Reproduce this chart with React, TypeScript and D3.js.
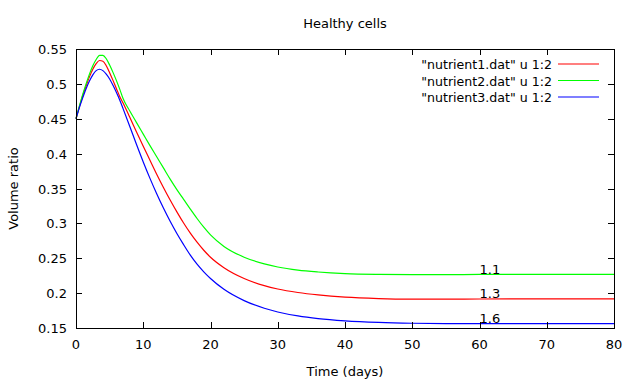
import React, { useRef, useEffect } from 'react';
import * as d3 from 'd3';

// time (days) sampled for each series
const days = [0, 0.5, 1, 1.5, 2, 2.5, 3, 3.5, 4, 4.5, 5, 5.5, 6, 6.5, 7, 8, 9, 10, 11, 12, 13, 14, 15, 16, 17, 18, 19, 20, 22, 25, 28, 30, 33, 36, 40, 45, 50, 55, 60, 70, 80];

const nutrient1 = [0.450, 0.467, 0.483, 0.497, 0.510, 0.521, 0.529, 0.5335, 0.5325, 0.526, 0.516, 0.505, 0.4935, 0.482, 0.4725, 0.452, 0.431, 0.4105, 0.3905, 0.3705, 0.3515, 0.3335, 0.3165, 0.3005, 0.286, 0.273, 0.2615, 0.2515, 0.2365, 0.221, 0.2107, 0.2059, 0.2009, 0.1974, 0.1942, 0.1922, 0.1914, 0.1913, 0.1916, 0.1918, 0.1918];
const nutrient2 = [0.450, 0.468, 0.485, 0.500, 0.514, 0.526, 0.535, 0.541, 0.541, 0.536, 0.527, 0.5165, 0.505, 0.4925, 0.479, 0.461, 0.4445, 0.428, 0.4115, 0.3955, 0.3795, 0.3635, 0.3485, 0.3345, 0.3205, 0.307, 0.2945, 0.2835, 0.267, 0.2515, 0.242, 0.2375, 0.233, 0.2303, 0.228, 0.2268, 0.2264, 0.2265, 0.2268, 0.227, 0.227];
const nutrient3 = [0.450, 0.466, 0.480, 0.493, 0.504, 0.513, 0.519, 0.521, 0.519, 0.514, 0.507, 0.498, 0.488, 0.477, 0.4645, 0.439, 0.413, 0.388, 0.3645, 0.3425, 0.322, 0.303, 0.2855, 0.2695, 0.2545, 0.2415, 0.2305, 0.221, 0.2055, 0.1893, 0.1783, 0.173, 0.1673, 0.1635, 0.1603, 0.158, 0.1568, 0.1563, 0.1562, 0.1563, 0.1564];

const seriesNames = ['"nutrient1.dat" u 1:2', '"nutrient2.dat" u 1:2', '"nutrient3.dat" u 1:2'];
const seriesColors = ['#ff0000', '#00ff00', '#0000ff'];

const xTicks = [0, 10, 20, 30, 40, 50, 60, 70, 80];
const yTicks = [0.15, 0.2, 0.25, 0.3, 0.35, 0.4, 0.45, 0.5, 0.55];

// curve labels placed in the plot
const labelTexts = ['1.1', '1.3', '1.6'];
const labelX = [60, 60, 60];
const labelY = [0.235, 0.2, 0.165];

const App = () => {
    const chart = useRef<SVGSVGElement>(null);

    useEffect(() => {
        const width = 636;
        const height = 382;
        const left = 76, right = 614, top = 49, bottom = 328;
        const font = 'DejaVu Sans, sans-serif';

        const svg = d3.select(chart.current);
        svg.selectAll('*').remove();
        svg.attr('width', width).attr('height', height);

        svg.append('rect').attr('width', width).attr('height', height).attr('fill', '#fff');

        const xScale = d3.scaleLinear().domain([0, 80]).range([left, right]);
        const yScale = d3.scaleLinear().domain([0.15, 0.55]).range([bottom, top]);

        const g = svg.append('g').style('font-family', font).style('font-size', '13px');

        // curves
        const all = [nutrient1, nutrient2, nutrient3];
        const line = d3.line<number>()
            .x((d, i) => xScale(days[i]))
            .y(d => yScale(d))
            .curve(d3.curveMonotoneX);

        all.forEach((vals, k) => {
            g.append('path')
                .attr('d', line(vals))
                .attr('fill', 'none')
                .attr('stroke', seriesColors[k])
                .attr('stroke-width', 1.2);
        });

        // ticks (mirrored on all sides)
        const tk = 6;
        xTicks.forEach(t => {
            const x = Math.round(xScale(t)) + 0.5;
            g.append('line').attr('x1', x).attr('x2', x).attr('y1', bottom).attr('y2', bottom - tk).attr('stroke', '#000');
            g.append('line').attr('x1', x).attr('x2', x).attr('y1', top).attr('y2', top + tk).attr('stroke', '#000');
            g.append('text').attr('x', xScale(t)).attr('y', bottom + 21)
                .attr('text-anchor', 'middle').text(String(t));
        });
        yTicks.forEach(t => {
            const y = Math.round(yScale(t)) + 0.5;
            g.append('line').attr('x1', left).attr('x2', left + tk).attr('y1', y).attr('y2', y).attr('stroke', '#000');
            g.append('line').attr('x1', right).attr('x2', right - tk).attr('y1', y).attr('y2', y).attr('stroke', '#000');
            g.append('text').attr('x', left - 9).attr('y', yScale(t) + 5)
                .attr('text-anchor', 'end').text(String(t));
        });

        // border
        g.append('rect')
            .attr('x', left + 0.5).attr('y', top + 0.5)
            .attr('width', right - left).attr('height', bottom - top)
            .attr('fill', 'none').attr('stroke', '#000');

        // legend
        seriesNames.forEach((name, k) => {
            const ly = 64 + k * 16.5;
            g.append('text').attr('x', 552).attr('y', ly + 5)
                .attr('text-anchor', 'end').style('font-size', '12.6px').text(name);
            g.append('line').attr('x1', 558).attr('x2', 599).attr('y1', ly).attr('y2', ly)
                .attr('stroke', seriesColors[k]).attr('stroke-width', 1.2);
        });

        // labels
        labelTexts.forEach((t, i) => {
            g.append('text').attr('x', xScale(labelX[i])).attr('y', yScale(labelY[i]) + 5).text(t);
        });

        // titles
        g.append('text').attr('x', (left + right) / 2).attr('y', 28)
            .attr('text-anchor', 'middle').text('Healthy cells');
        g.append('text').attr('x', (left + right) / 2).attr('y', 376)
            .attr('text-anchor', 'middle').text('Time (days)');
        g.append('text').attr('transform', `translate(18, ${(top + bottom) / 2}) rotate(-90)`)
            .attr('text-anchor', 'middle').text('Volume ratio');
    }, []);

    return (
        <svg ref={chart} style={{ position: 'absolute', left: 0, top: 0 }}></svg>
    );
};

export default App;
